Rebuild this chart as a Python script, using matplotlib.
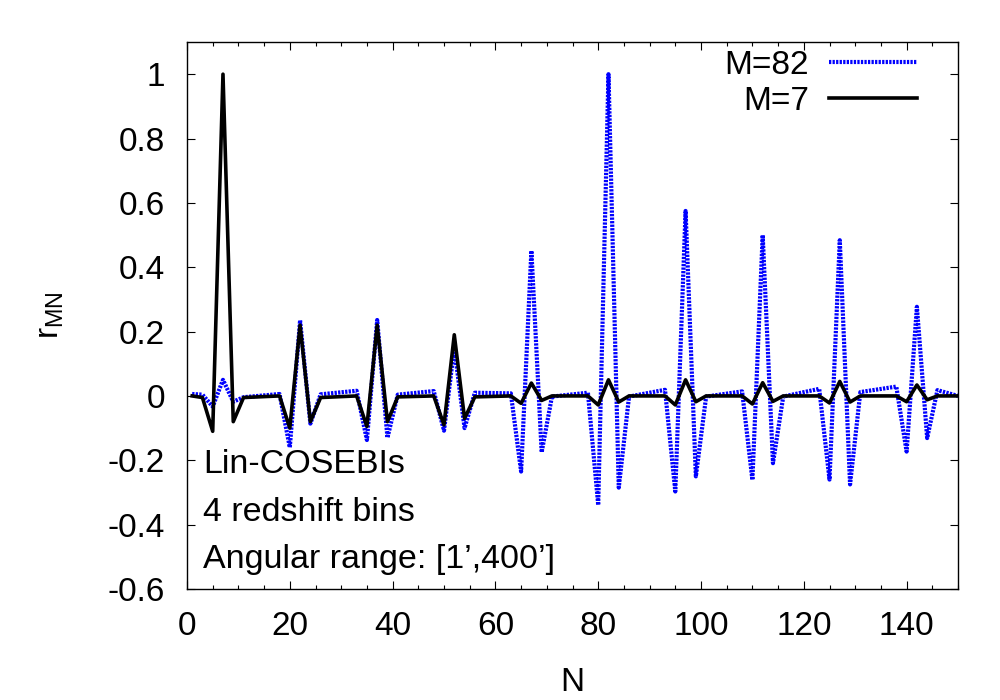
import matplotlib
matplotlib.use("Agg")
import matplotlib.pyplot as plt

plt.rcParams['font.family'] = ['Liberation Sans', 'DejaVu Sans']

# M=7 (black) vertices
n_m7 = [1, 3, 5, 7, 9, 11,
        18, 20, 22, 24, 26,
        33, 35, 37, 39, 41,
        48, 50, 52, 54, 56,
        63, 65, 67, 69, 71,
        78, 80, 82, 84, 86,
        93, 95, 97, 99, 101,
        108, 110, 112, 114, 116,
        123, 125, 127, 129, 131,
        138, 140, 142, 144, 146, 150]
r_m7 = [0.0, -0.005, -0.11, 1.0, -0.08, -0.005,
        0.0, -0.10, 0.22, -0.08, -0.005,
        0.0, -0.095, 0.22, -0.08, -0.003,
        0.0, -0.09, 0.19, -0.07, -0.003,
        0.0, -0.023, 0.04, -0.014, 0.0,
        0.0, -0.028, 0.05, -0.019, 0.0,
        0.0, -0.028, 0.05, -0.018, 0.0,
        0.0, -0.025, 0.041, -0.017, 0.0,
        0.0, -0.022, 0.045, -0.019, 0.0,
        0.0, -0.018, 0.034, -0.012, 0.0, 0.0]

# M=82 (blue) vertices
n_m82 = n_m7
r_m82 = [0.006, 0.004, -0.033, 0.05, -0.018, -0.004,
         0.006, -0.16, 0.235, -0.086, 0.005,
         0.016, -0.137, 0.236, -0.13, 0.004,
         0.015, -0.108, 0.15, -0.10, 0.01,
         0.008, -0.235, 0.451, -0.175, -0.002,
         0.01, -0.339, 1.0, -0.285, -0.002,
         0.019, -0.297, 0.575, -0.25, -0.002,
         0.014, -0.261, 0.50, -0.209, -0.002,
         0.022, -0.26, 0.484, -0.275, 0.012,
         0.029, -0.173, 0.277, -0.131, 0.018, 0.0]

labels = ['M=82', 'M=7']
xticks = [0, 20, 40, 60, 80, 100, 120, 140]
yticks = [-0.6, -0.4, -0.2, 0, 0.2, 0.4, 0.6, 0.8, 1]
ytick_labels = ['-0.6', '-0.4', '-0.2', '0', '0.2', '0.4', '0.6', '0.8', '1']
annot = ['Lin-COSEBIs', '4 redshift bins', 'Angular range: [1\u2019,400\u2019]']

fs = 24
fig = plt.figure(figsize=(10, 7), dpi=100)
ax = fig.add_axes([0.187, 0.1586, 0.771, 0.7814])

ax.plot(n_m82, r_m82, color='#0000ff', lw=3.0, linestyle=(0, (0.55, 0.3)),
        label=labels[0])
ax.plot(n_m7, r_m7, color='black', lw=2.6, label=labels[1])

ax.set_xlim(0, 150)
ax.set_ylim(-0.6, 1.1)
ax.set_xticks(xticks)
ax.set_xticks(range(0, 151, 5), minor=True)
ax.set_yticks(yticks)
ax.set_yticklabels(ytick_labels)
ax.tick_params(axis='both', which='both', direction='in', top=True, right=True,
               labelsize=fs, width=0.8)
ax.tick_params(axis='both', which='major', length=6)
ax.tick_params(axis='both', which='minor', length=3)
ax.tick_params(axis='y', pad=16)
ax.tick_params(axis='x', pad=16)
for s in ax.spines.values():
    s.set_linewidth(1.0)

ax.set_xlabel('N', fontsize=fs, labelpad=18)
ax.set_ylabel(r'r$_{\mathregular{MN}}$', fontsize=fs, labelpad=30)

ys = [0.227, 0.139, 0.053]
for t, y in zip(annot, ys):
    ax.text(0.021, y, t, transform=ax.transAxes, fontsize=24.5, va='center', ha='left')

ax.legend(loc='upper right', bbox_to_anchor=(0.947, 0.986), frameon=False,
          markerfirst=False, fontsize=fs, handlelength=2.65, handletextpad=0.6,
          labelspacing=0.15, borderpad=0.0, borderaxespad=0.0)

fig.savefig('out.png', dpi=100)
